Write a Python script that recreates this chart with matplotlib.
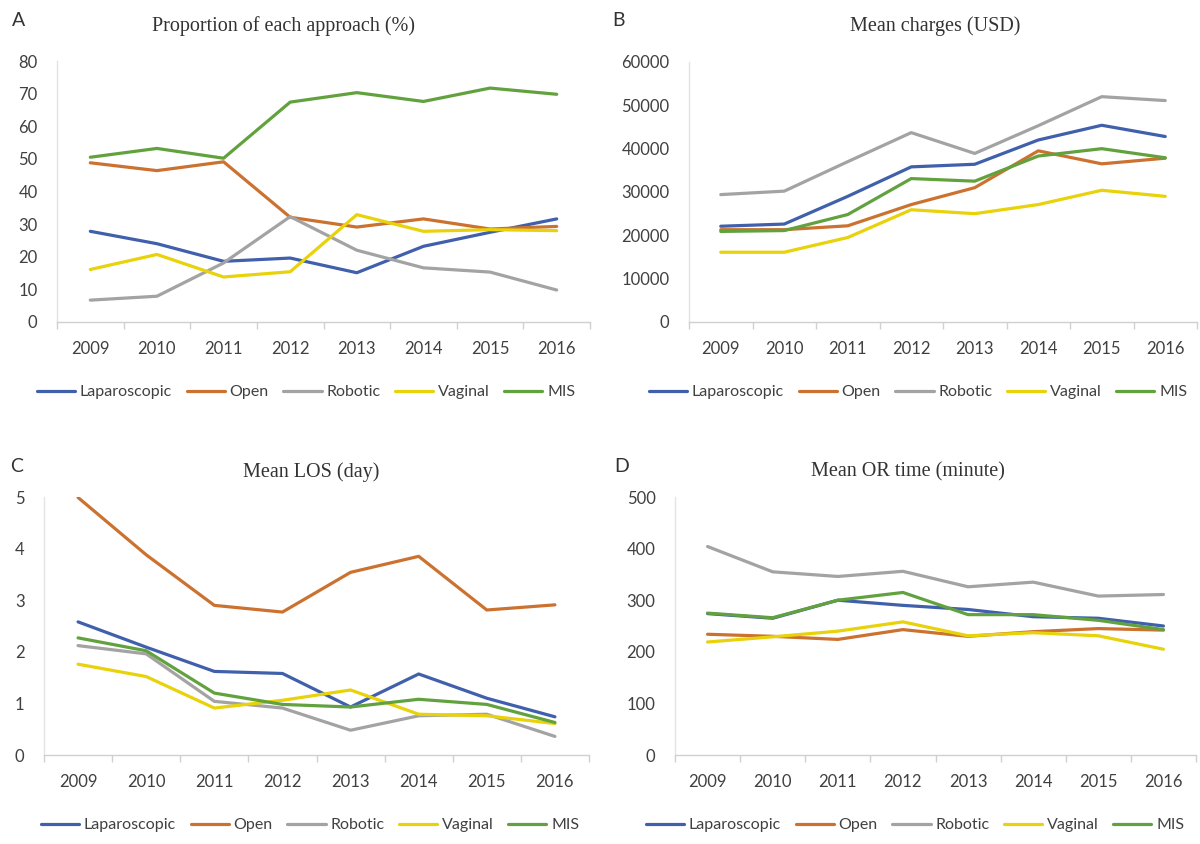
import matplotlib.pyplot as plt
from matplotlib.ticker import FixedLocator

# Data
years = ['2009', '2010', '2011', '2012', '2013', '2014', '2015', '2016']
series_names = ['Laparoscopic', 'Open', 'Robotic', 'Vaginal', 'MIS']
colors = ['#4060AC', '#CC7230', '#A3A3A3', '#E8D20A', '#62A23E']

# A. Proportion of each approach (%)
prop_lap = [27.8, 24.0, 18.6, 19.6, 15.1, 23.2, 27.5, 31.6]
prop_open = [48.8, 46.4, 49.1, 32.1, 29.1, 31.6, 28.5, 29.3]
prop_rob = [6.7, 7.9, 18.1, 32.3, 22.0, 16.6, 15.3, 9.8]
prop_vag = [16.1, 20.7, 13.8, 15.4, 32.9, 27.8, 28.3, 28.0]
prop_mis = [50.5, 53.2, 50.2, 67.4, 70.3, 67.6, 71.7, 69.8]

# B. Mean charges (USD)
chg_lap = [22100, 22600, 29000, 35800, 36400, 42000, 45400, 42800]
chg_open = [21300, 21300, 22200, 27100, 31000, 39500, 36500, 37800]
chg_rob = [29400, 30200, 37000, 43700, 38900, 45300, 52000, 51100]
chg_vag = [16100, 16100, 19500, 25900, 25000, 27100, 30400, 29000]
chg_mis = [20900, 21100, 24800, 33100, 32500, 38300, 40000, 37900]

# C. Mean LOS (day)
los_lap = [2.58, 2.09, 1.62, 1.58, 0.93, 1.57, 1.10, 0.74]
los_open = [4.99, 3.88, 2.90, 2.77, 3.54, 3.85, 2.81, 2.91]
los_rob = [2.12, 1.96, 1.04, 0.91, 0.48, 0.76, 0.79, 0.36]
los_vag = [1.76, 1.52, 0.91, 1.06, 1.26, 0.79, 0.76, 0.61]
los_mis = [2.27, 2.02, 1.20, 0.98, 0.93, 1.08, 0.98, 0.63]

# D. Mean OR time (minute)
ort_lap = [274, 265, 300, 290, 282, 268, 265, 250]
ort_open = [234, 230, 224, 243, 230, 239, 245, 242]
ort_rob = [404, 355, 346, 356, 326, 335, 308, 311]
ort_vag = [219, 229, 240, 258, 231, 237, 231, 205]
ort_mis = [275, 266, 300, 315, 272, 272, 261, 243]

panels = [
    ('A', 'Proportion of each approach (%)', [prop_lap, prop_open, prop_rob, prop_vag, prop_mis], 80, 10),
    ('B', 'Mean charges (USD)', [chg_lap, chg_open, chg_rob, chg_vag, chg_mis], 60000, 10000),
    ('C', 'Mean LOS (day)', [los_lap, los_open, los_rob, los_vag, los_mis], 5, 1),
    ('D', 'Mean OR time (minute)', [ort_lap, ort_open, ort_rob, ort_vag, ort_mis], 500, 100),
]

# axes boxes in pixels: left, right, top (y=max), bottom (y=0)
boxes = [(57, 590, 61, 322), (689, 1197, 62, 322), (44, 589, 497, 755), (675, 1196, 497, 755)]
letter_pos = [(12, 20), (612, 20), (10, 466), (614, 466)]
title_x = [284, 935, 311, 908]
legend_x = [306, 918, 310, 915]

W, H = 1200, 844
fig = plt.figure(figsize=(12, 8.44), dpi=100)

tick_font = 'Lato'
serif_font = 'Liberation Serif'

for (letter, title, data, ymax, step), (l, r, t, b), (lx, ly), tx, gx in zip(
        panels, boxes, letter_pos, title_x, legend_x):
    ax = fig.add_axes([l / W, (H - b) / H, (r - l) / W, (b - t) / H])
    x = list(range(len(years)))
    for vals, name, c in zip(data, series_names, colors):
        ax.plot(x, vals, color=c, lw=2.3, label=name, solid_capstyle='round')
    ax.set_xlim(-0.5, len(years) - 0.5)
    ax.set_ylim(0, ymax)
    ax.set_yticks([i * step for i in range(int(ymax / step) + 1)])
    ax.set_xticks(x)
    ax.set_xticklabels(years)
    ax.xaxis.set_minor_locator(FixedLocator([i - 0.5 for i in range(len(years) + 1)]))
    ax.tick_params(axis='x', which='major', length=0, pad=14, labelsize=12, labelcolor='#404040')
    ax.tick_params(axis='x', which='minor', length=5, color='#D0D0D0', width=1)
    ax.tick_params(axis='y', length=0, pad=14, labelsize=12, labelcolor='#404040')
    for lab in ax.get_xticklabels() + ax.get_yticklabels():
        lab.set_fontfamily(tick_font)
    for side in ['top', 'right']:
        ax.spines[side].set_visible(False)
    ax.spines['left'].set_color('#E4E4E4')
    ax.spines['bottom'].set_color('#D0D0D0')
    ax.spines['left'].set_linewidth(1)
    ax.spines['bottom'].set_linewidth(1)

    fig.text(tx / W, 1 - (ly + 6) / H, title, ha='center', va='center',
             fontsize=14.5, family=serif_font, color='#333333')
    fig.text(lx / W, 1 - ly / H, letter, ha='left', va='center',
             fontsize=14, family=tick_font, color='#333333')

    leg = fig.legend(*ax.get_legend_handles_labels(), loc='center',
                     bbox_to_anchor=(gx / W, 1 - (b + 70) / H), ncol=5, frameon=False,
                     handlelength=2.4, handletextpad=0.3, columnspacing=0.9,
                     prop={'family': tick_font, 'size': 11.5})
    for txt in leg.get_texts():
        txt.set_color('#404040')

fig.savefig('out.png', dpi=100, facecolor='white')
